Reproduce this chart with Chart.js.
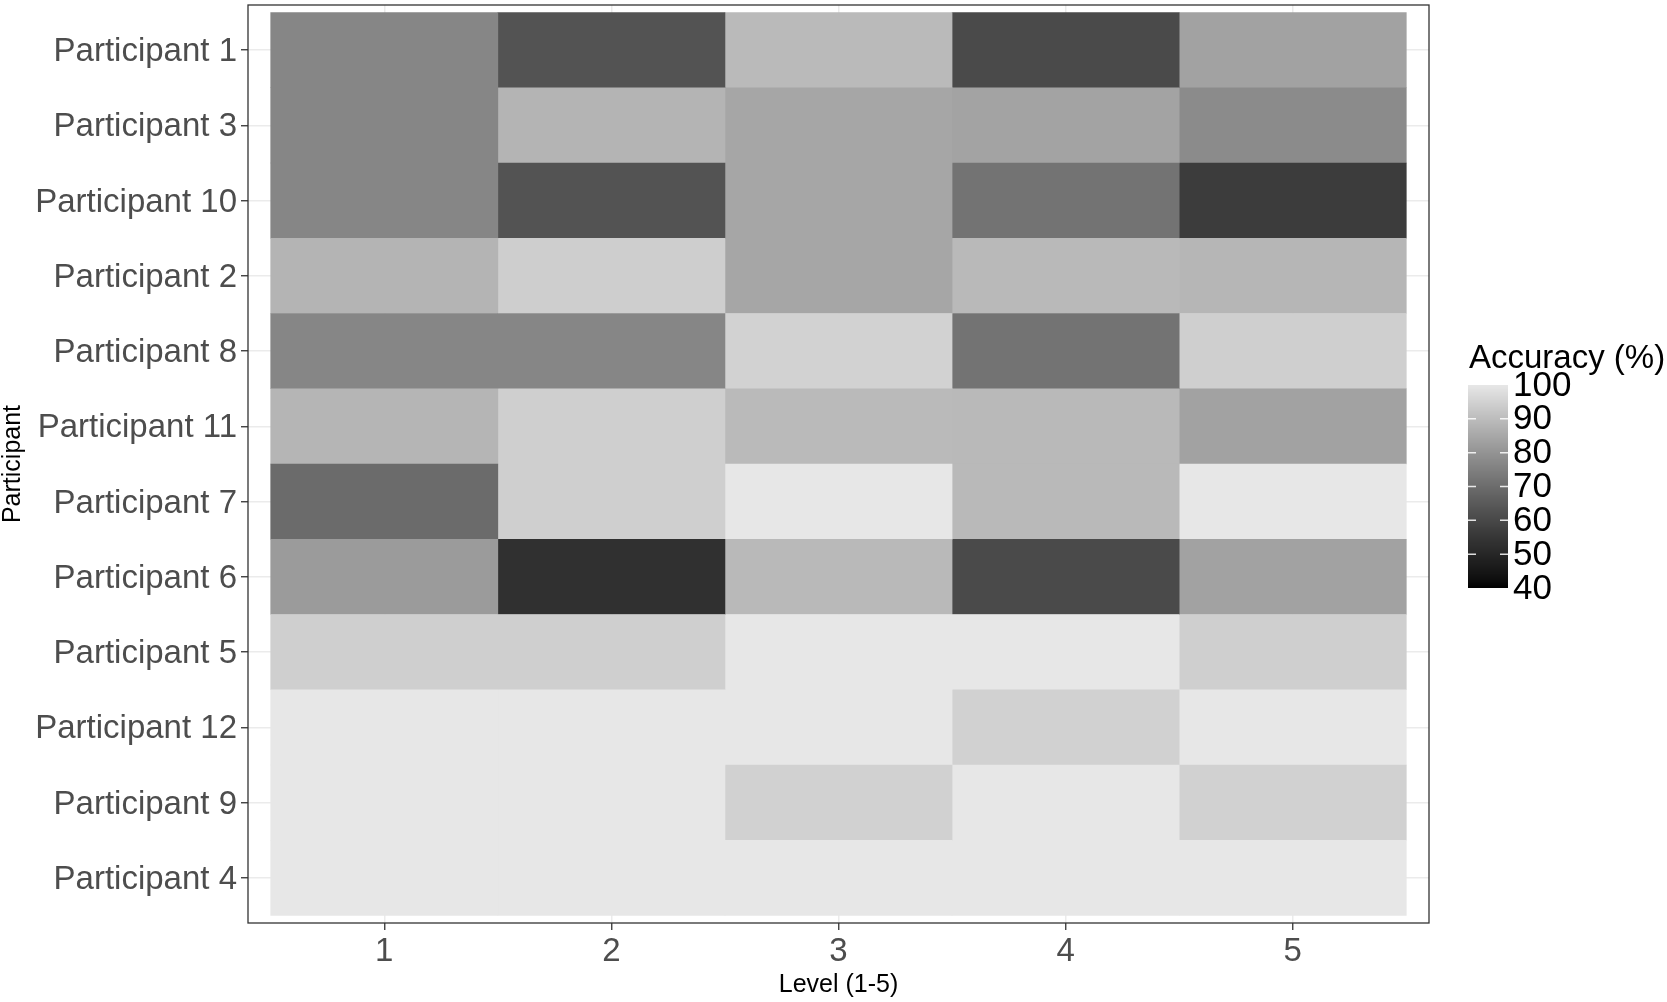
<!DOCTYPE html>
<html>
<head>
<meta charset="utf-8">
<script src="https://cdn.jsdelivr.net/npm/chart.js@4.4.1/dist/chart.umd.min.js"></script>
<style>
body { margin: 0; background: #fff; }
</style>
</head>
<body>
<canvas id="heat" width="1667" height="1002"></canvas>
<script>
// rows, top to bottom
var participants = ['Participant 1', 'Participant 3', 'Participant 10', 'Participant 2', 'Participant 8', 'Participant 11',
  'Participant 7', 'Participant 6', 'Participant 5', 'Participant 12', 'Participant 9', 'Participant 4'];
var levels = [1, 2, 3, 4, 5];
// accuracy (%) for each level, one value per participant (same order as above)
var level1 = [76.5, 76.5, 76.5, 87.9, 76.5, 88.2, 69.7, 81.8, 94.4, 100, 100, 100];
var level2 = [63.2, 87.9, 63.2, 94.2, 76.5, 94.4, 94.4, 53.1, 94.4, 100, 100, 100];
var level3 = [89.4, 84.6, 84.6, 84.6, 95.1, 89.4, 100, 89.2, 100, 100, 94.8, 100];
var level4 = [60.6, 83.8, 71.8, 89.2, 71.8, 89.2, 89.2, 60.6, 100, 94.8, 100, 100];
var level5 = [83.6, 77.8, 56.6, 88.4, 94.5, 83.6, 100, 83.6, 94.5, 100, 94.8, 100];
var legendTicks = [40, 50, 60, 70, 80, 90, 100];

var fillMin = 40, fillMax = 100;
var byLevel = [level1, level2, level3, level4, level5];
var font = 'Liberation Sans';

// black -> light grey, interpolated in Lab like ggplot does
function greyToL(g) {
  var s = g / 255;
  var y = s <= 0.04045 ? s / 12.92 : Math.pow((s + 0.055) / 1.055, 2.4);
  return y > 0.008856 ? 116 * Math.cbrt(y) - 16 : 903.3 * y;
}
function lToGrey(L) {
  var y = L > 8 ? Math.pow((L + 16) / 116, 3) : L / 903.3;
  var s = y <= 0.0031308 ? 12.92 * y : 1.055 * Math.pow(y, 1 / 2.4) - 0.055;
  return Math.round(Math.max(0, Math.min(1, s)) * 255);
}
var highL = greyToL(231);
function fillFor(v) {
  var t = (v - fillMin) / (fillMax - fillMin);
  t = Math.max(0, Math.min(1, t));
  var g = lToGrey(t * highL);
  return 'rgb(' + g + ',' + g + ',' + g + ')';
}

var panelBorder = {
  id: 'panelBorder',
  afterDatasetsDraw: function (chart) {
    var a = chart.chartArea, ctx = chart.ctx;
    ctx.save();
    ctx.strokeStyle = '#333333';
    ctx.lineWidth = 1.3;
    ctx.strokeRect(a.left, a.top, a.right - a.left, a.bottom - a.top);
    ctx.restore();
  }
};

// colour bar legend
var colourBar = {
  id: 'colourBar',
  afterDraw: function (chart) {
    var ctx = chart.ctx, a = chart.chartArea;
    var x0 = a.right + 39, w = 40, top = 385, bottom = 588;
    ctx.save();
    for (var py = top; py < bottom; py++) {
      var v = fillMax - (py + 0.5 - top) / (bottom - top) * (fillMax - fillMin);
      ctx.fillStyle = fillFor(v);
      ctx.fillRect(x0, py, w, 1);
    }
    ctx.strokeStyle = 'rgba(255,255,255,0.85)';
    ctx.lineWidth = 1.5;
    ctx.fillStyle = '#000';
    ctx.font = '35px "' + font + '"';
    ctx.textBaseline = 'middle';
    ctx.textAlign = 'left';
    legendTicks.forEach(function (v) {
      var y = bottom - (v - fillMin) / (fillMax - fillMin) * (bottom - top);
      if (v > fillMin && v < fillMax) {
        ctx.beginPath();
        ctx.moveTo(x0, y); ctx.lineTo(x0 + 8, y);
        ctx.moveTo(x0 + w - 8, y); ctx.lineTo(x0 + w, y);
        ctx.stroke();
      }
      ctx.fillText(String(v), x0 + w + 5, y + 1);
    });
    ctx.font = '33px "' + font + '"';
    ctx.fillText('Accuracy (%)', x0 + 1, 359);
    ctx.restore();
  }
};

function noPad(s) { s.paddingTop = 0; s.paddingBottom = 0; s.paddingLeft = 0; s.paddingRight = 0; }

new Chart(document.getElementById('heat'), {
  type: 'bar',
  data: {
    datasets: levels.map(function (lv, k) {
      return {
        label: 'Level ' + lv,
        data: participants.map(function (p, i) { return { y: i, x: [lv - 0.5, lv + 0.5] }; }),
        backgroundColor: byLevel[k].map(fillFor),
        borderWidth: 0,
        barPercentage: 1,
        categoryPercentage: 1
      };
    })
  },
  options: {
    indexAxis: 'y',
    responsive: false,
    animation: false,
    layout: { padding: { top: 5, right: 238, left: 0, bottom: 0 } },
    plugins: { legend: { display: false }, tooltip: { enabled: false } },
    scales: {
      x: {
        type: 'linear', min: 0.4, max: 5.6, offset: false,
        afterBuildTicks: function (s) { s.ticks = levels.map(function (v) { return { value: v }; }); },
        afterFit: function (s) { s.height = 79; noPad(s); },
        grid: { offset: false, color: '#ebebeb', lineWidth: 1.5, tickColor: '#333333', tickWidth: 1.3, tickLength: 7 },
        border: { display: false },
        ticks: { color: '#4d4d4d', font: { size: 33, family: font }, padding: 2, maxRotation: 0,
          callback: function (v) { return String(v); } },
        title: { display: true, text: 'Level (1-5)', color: '#000', font: { size: 25, family: font, lineHeight: 1 },
          padding: { top: 0, bottom: 4 } }
      },
      y: {
        type: 'linear', reverse: true, min: -0.6, max: 11.6, stacked: true, offset: false,
        afterBuildTicks: function (s) { s.ticks = participants.map(function (p, i) { return { value: i }; }); },
        afterFit: function (s) { s.width = 248; noPad(s); },
        grid: { offset: false, color: '#ebebeb', lineWidth: 1.5, tickColor: '#333333', tickWidth: 1.3, tickLength: 7 },
        border: { display: false },
        ticks: { color: '#4d4d4d', font: { size: 33, family: font }, padding: 4, labelOffset: 2,
          callback: function (v) { return participants[v]; } },
        title: { display: true, text: 'Participant', color: '#000', font: { size: 25, family: font, lineHeight: 1 },
          padding: { top: 1, bottom: 0 } }
      }
    }
  },
  plugins: [panelBorder, colourBar]
});
</script>
</body>
</html>
